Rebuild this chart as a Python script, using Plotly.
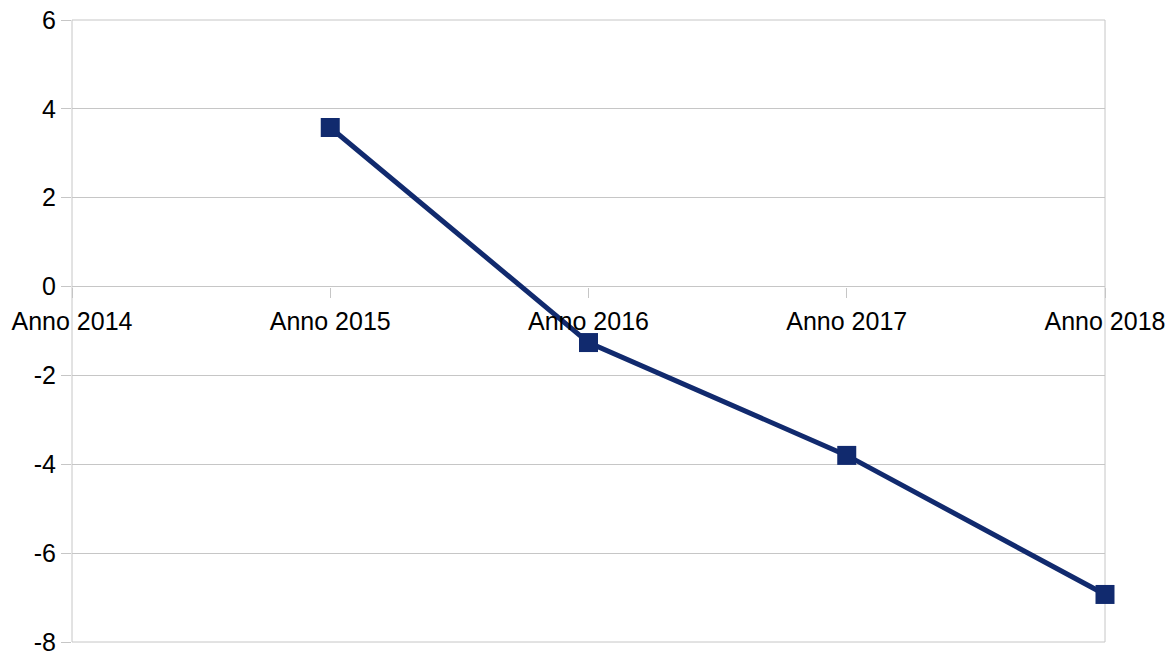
import plotly.graph_objects as go

categories = ["Anno 2014", "Anno 2015", "Anno 2016", "Anno 2017", "Anno 2018"]
values = [None, 3.58, -1.26, -3.80, -6.93]
y_ticks = [-8, -6, -4, -2, 0, 2, 4, 6]
y_tick_labels = ["-8", "-6", "-4", "-2", "0", "2", "4", "6"]

grid = "#c6c6c6"
navy = "#112a6e"
font = dict(family="Liberation Sans, Arial, sans-serif", size=25, color="#000000")

fig = go.Figure()
fig.add_trace(go.Scatter(
    x=categories, y=values, mode="lines+markers",
    line=dict(color=navy, width=5),
    marker=dict(symbol="square", size=19, color=navy),
    connectgaps=False, showlegend=False, cliponaxis=False,
))

fig.update_layout(
    width=1168, height=655,
    margin=dict(l=72, r=63, t=20, b=13),
    paper_bgcolor="white", plot_bgcolor="white",
    font=font,
    xaxis=dict(
        type="category", categoryorder="array", categoryarray=categories,
        range=[0, len(categories) - 1],
        anchor="free", position=8 / 14, automargin=False,
        showgrid=False, zeroline=False, showline=False,
        ticks="outside", ticklen=10, tickcolor=grid, tickwidth=1,
        tickfont=font, ticklabelstandoff=2, ticklabeloverflow="allow",
    ),
    yaxis=dict(
        range=[-8, 6], tickvals=y_ticks, ticktext=y_tick_labels,
        automargin=False,
        showgrid=True, gridcolor=grid, gridwidth=1,
        zeroline=False, showline=False,
        ticks="outside", ticklen=10, tickcolor=grid,
        tickfont=font, ticklabeloverflow="allow",
    ),
    shapes=[dict(type="rect", xref="paper", yref="paper", x0=0, x1=1, y0=0, y1=1,
                 line=dict(color=grid, width=1), layer="below")],
)

fig.write_html(
    "out.html",
    config={"displayModeBar": False},
    post_script="document.body.style.margin='0';document.body.style.overflow='hidden';",
)
